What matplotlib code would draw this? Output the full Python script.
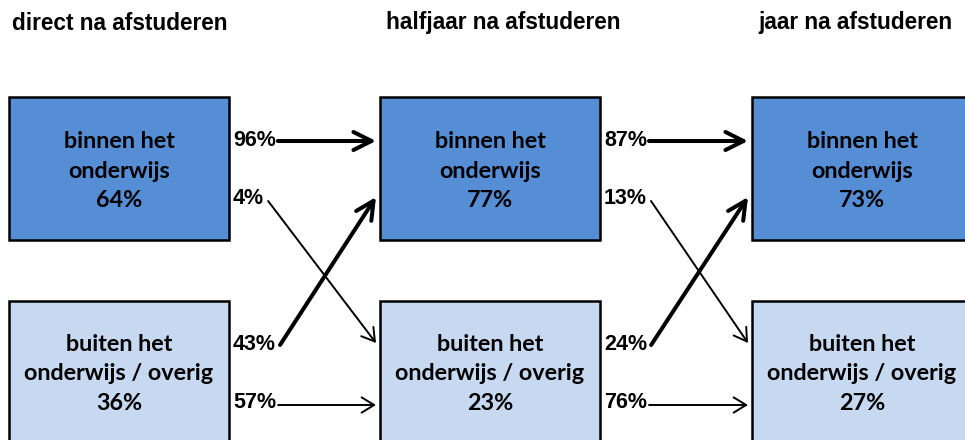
import matplotlib
matplotlib.use('Agg')
import matplotlib.pyplot as plt
from matplotlib.patches import Rectangle

# stages and shares (percent)
stages = ['direct na afstuderen', 'halfjaar na afstuderen', 'jaar na afstuderen']
binnen_share = [64, 77, 73]
buiten_share = [36, 23, 27]
binnen_label = 'binnen het\nonderwijs'
buiten_label = 'buiten het\nonderwijs / overig'

# transitions between consecutive stages (percent)
binnen_to_binnen = [96, 87]
binnen_to_buiten = [4, 13]
buiten_to_binnen = [43, 24]
buiten_to_buiten = [57, 76]

dark = '#558ED5'
light = '#C6D9F1'
box_font = ['Lato', 'DejaVu Sans']
arial = ['Liberation Sans', 'DejaVu Sans']

fig = plt.figure(figsize=(9.65, 4.4), dpi=100)
ax = fig.add_axes([0, 0, 1, 1])
ax.set_xlim(0, 965)
ax.set_ylim(440, 0)
ax.axis('off')

box_x = [9, 380, 752]
box_w = 220
top_y, top_h = 97, 143
bot_y, bot_h = 301, 160
head_x = [12, 386, 758]

for i, st in enumerate(stages):
    ax.text(head_x[i], 23, st, fontsize=16.3, fontweight='bold',
            family=arial, ha='left', va='center')
    ax.add_patch(Rectangle((box_x[i], top_y), box_w, top_h, facecolor=dark,
                           edgecolor='black', lw=1.8, zorder=2))
    ax.add_patch(Rectangle((box_x[i], bot_y), box_w, bot_h, facecolor=light,
                           edgecolor='black', lw=1.8, zorder=2))
    ax.text(box_x[i] + box_w / 2, 171, binnen_label + '\n%d%%' % binnen_share[i],
            ha='center', va='center', fontsize=16.8, fontweight='bold',
            family=box_font, linespacing=1.5, zorder=3)
    ax.text(box_x[i] + box_w / 2, 374, buiten_label + '\n%d%%' % buiten_share[i],
            ha='center', va='center', fontsize=16.8, fontweight='bold',
            family=box_font, linespacing=1.5, zorder=3)

fig.canvas.draw()
renderer = fig.canvas.get_renderer()
inv = ax.transData.inverted()

def pct_label(x, y, v):
    t = ax.text(x, y, '%d%%' % v, ha='left', va='center', fontsize=15.5,
                fontweight='bold', family=arial)
    bb = t.get_window_extent(renderer)
    return inv.transform((bb.x1, 0))[0]

def arrow(x0, y0, x1, y1, thick):
    if thick:
        style, lw = '->,head_length=1.3,head_width=0.65', 2.9
    else:
        style, lw = '->,head_length=0.9,head_width=0.55', 1.4
    ax.annotate('', xy=(x1, y1), xytext=(x0, y0),
                arrowprops=dict(arrowstyle=style, lw=lw, color='black',
                                shrinkA=0, shrinkB=0))

for k in range(2):
    lx = box_x[k] + box_w + 4
    tx = box_x[k + 1] - 4
    e = pct_label(lx, 141, binnen_to_binnen[k])
    arrow(e + 2, 141, tx, 141, True)
    e = pct_label(lx, 199, binnen_to_buiten[k])
    arrow(e + 4, 201, tx, 343, False)
    e = pct_label(lx, 345, buiten_to_binnen[k])
    arrow(e + 4, 345, tx, 197, True)
    e = pct_label(lx, 403, buiten_to_buiten[k])
    arrow(e + 2, 405, tx, 405, False)

fig.savefig('out.png', dpi=100)
